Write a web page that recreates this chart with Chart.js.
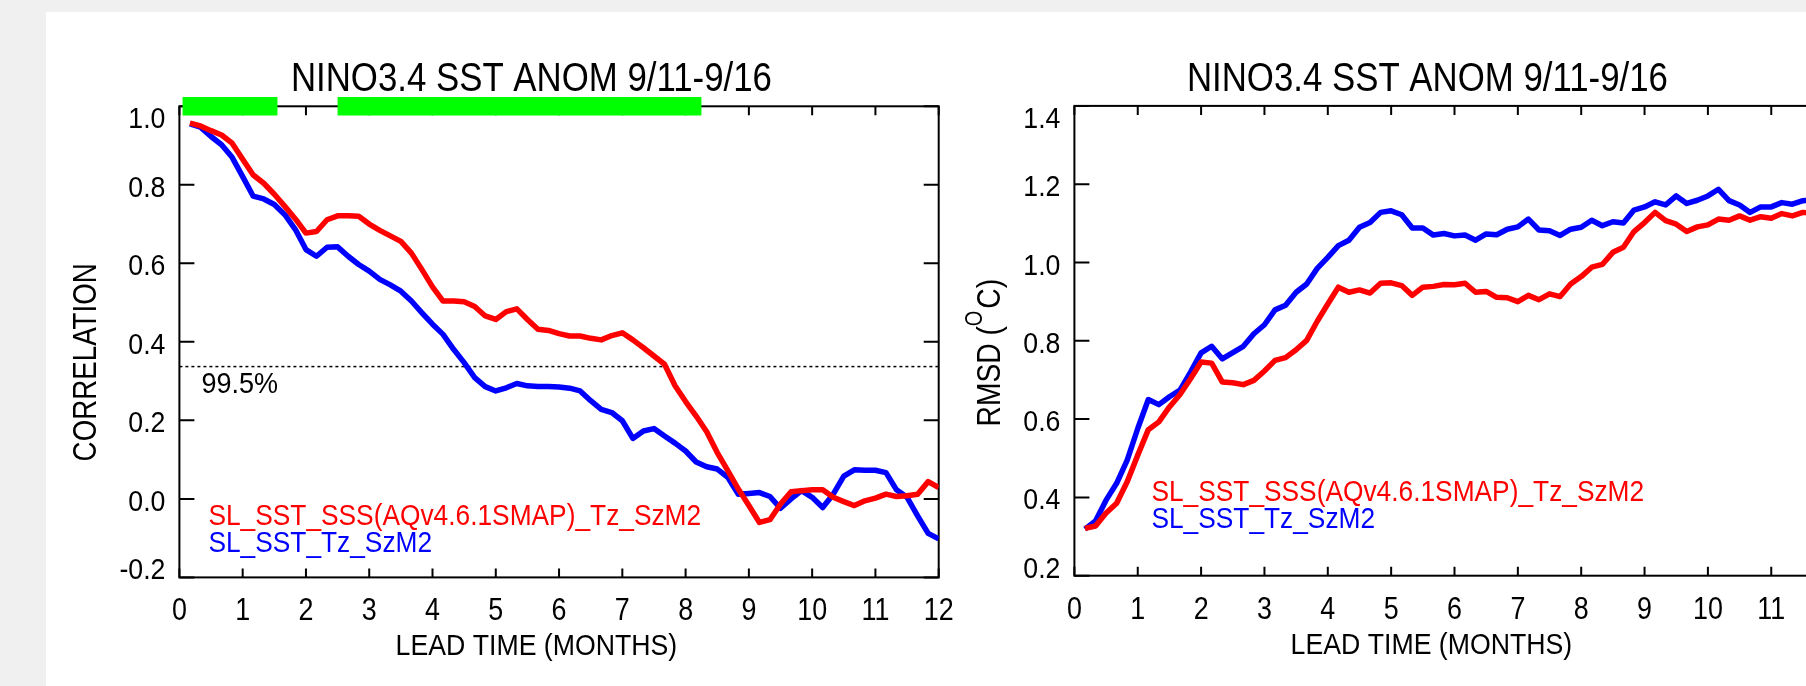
<!DOCTYPE html>
<html>
<head>
<meta charset="utf-8">
<script src="https://cdn.jsdelivr.net/npm/chart.js@4.4.1/dist/chart.umd.min.js"></script>
<style>
  html, body { margin: 0; padding: 0; background: #f0f0f0; overflow: hidden; }
  #page { position: relative; width: 1806px; height: 686px; overflow: hidden; }
  #panel { position: absolute; left: 46px; top: 12px; right: 0; bottom: 0; background: #fff; }
  canvas { position: absolute; top: 0; }
  #corr { left: 0; }
  #rmsd { left: 960px; }
</style>
</head>
<body>
<div id="page">
  <div id="panel"></div>
  <canvas id="corr" width="970" height="686"></canvas>
  <canvas id="rmsd" width="900" height="686"></canvas>
</div>
<script>
// lead times: pentad steps, in months
const leadTimes = Array.from({ length: 72 }, (_, i) => (i + 1) / 6);
const xTickLabels = ['0', '1', '2', '3', '4', '5', '6', '7', '8', '9', '10', '11', '12'];

const nameSSS = 'SL_SST_SSS(AQv4.6.1SMAP)_Tz_SzM2';
const nameSST = 'SL_SST_Tz_SzM2';

// anomaly correlation
const corrSSS = [0.957, 0.950, 0.938, 0.927, 0.906, 0.865, 0.825, 0.804, 0.776, 0.745, 0.713, 0.677,
  0.681, 0.711, 0.721, 0.721, 0.720, 0.700, 0.684, 0.670, 0.656, 0.626, 0.584, 0.540,
  0.504, 0.504, 0.502, 0.490, 0.466, 0.457, 0.477, 0.484, 0.457, 0.432, 0.429, 0.421,
  0.415, 0.415, 0.409, 0.405, 0.416, 0.423, 0.405, 0.385, 0.364, 0.343, 0.288, 0.248,
  0.211, 0.171, 0.118, 0.072, 0.025, -0.017, -0.060, -0.053, -0.013, 0.018, 0.021, 0.023,
  0.023, 0.004, -0.007, -0.017, -0.005, 0.002, 0.012, 0.006, 0.008, 0.012, 0.044, 0.029];
const corrSST = [0.955, 0.947, 0.923, 0.902, 0.870, 0.821, 0.771, 0.764, 0.750, 0.724, 0.686, 0.635,
  0.618, 0.641, 0.642, 0.618, 0.597, 0.580, 0.559, 0.545, 0.529, 0.504, 0.474, 0.445,
  0.419, 0.381, 0.347, 0.309, 0.286, 0.275, 0.283, 0.294, 0.288, 0.286, 0.286, 0.285,
  0.282, 0.275, 0.250, 0.228, 0.220, 0.199, 0.154, 0.173, 0.179, 0.160, 0.142, 0.122,
  0.094, 0.082, 0.076, 0.055, 0.012, 0.014, 0.016, 0.006, -0.024, 0.000, 0.021, 0.004,
  -0.022, 0.012, 0.058, 0.074, 0.073, 0.073, 0.067, 0.023, 0.004, -0.043, -0.088, -0.102];
const sig995 = 0.337;
// months where the two runs differ significantly (green bars)
const sigStart = [0.05, 2.5];
const sigEnd = [1.55, 8.25];

// rmsd (deg C)
const rmsdSSS = [0.321, 0.327, 0.360, 0.385, 0.440, 0.508, 0.573, 0.593, 0.631, 0.663, 0.703, 0.746,
  0.743, 0.695, 0.693, 0.688, 0.699, 0.723, 0.750, 0.757, 0.777, 0.801, 0.850, 0.894,
  0.937, 0.924, 0.930, 0.922, 0.947, 0.948, 0.941, 0.916, 0.937, 0.939, 0.944, 0.943,
  0.947, 0.924, 0.926, 0.911, 0.910, 0.900, 0.916, 0.905, 0.920, 0.913, 0.945, 0.964,
  0.988, 0.995, 1.026, 1.039, 1.079, 1.102, 1.128, 1.107, 1.098, 1.079, 1.091, 1.096,
  1.111, 1.108, 1.119, 1.108, 1.117, 1.113, 1.125, 1.119, 1.128, 1.125, 1.130, 1.130];
const rmsdSST = [0.319, 0.340, 0.393, 0.436, 0.495, 0.576, 0.650, 0.637, 0.657, 0.674, 0.720, 0.769,
  0.786, 0.754, 0.770, 0.786, 0.818, 0.841, 0.879, 0.891, 0.924, 0.945, 0.985, 1.013,
  1.043, 1.057, 1.090, 1.102, 1.128, 1.132, 1.122, 1.088, 1.088, 1.070, 1.074, 1.068,
  1.070, 1.057, 1.073, 1.071, 1.085, 1.091, 1.111, 1.083, 1.081, 1.069, 1.085, 1.090,
  1.108, 1.094, 1.104, 1.101, 1.134, 1.142, 1.155, 1.147, 1.170, 1.151, 1.159, 1.170,
  1.187, 1.158, 1.147, 1.128, 1.142, 1.142, 1.153, 1.149, 1.158, 1.160, 1.155, 1.160];

const FONT = '"Liberation Sans", Arial, sans-serif';
const LINE_W = 5.5;
const pts = (ys) => leadTimes.map((x, i) => ({ x, y: ys[i] }));

// the original uses a condensed face, so squeeze Liberation Sans sideways
function squeeze(ctx, text, x, y, size, sx, align) {
  ctx.save();
  ctx.font = size + 'px ' + FONT;
  const w = ctx.measureText(text).width * sx;
  const x0 = align === 'center' ? x - w / 2 : align === 'right' ? x - w : x;
  ctx.translate(x0, y);
  ctx.scale(sx, 1);
  ctx.textAlign = 'left';
  ctx.textBaseline = 'alphabetic';
  ctx.fillText(text, 0, 0);
  ctx.restore();
  return w;
}

// box round the plot with inward ticks on all four sides, tick labels
const frameTicks = {
  id: 'frameTicks',
  beforeDatasetsDraw(chart) {
    const { ctx, chartArea: a, scales: { x, y } } = chart;
    ctx.save();
    ctx.strokeStyle = '#000';
    ctx.lineWidth = 2;
    ctx.strokeRect(a.left, a.top, a.right - a.left, a.bottom - a.top);
    ctx.beginPath();
    x.ticks.forEach(t => {
      const px = x.getPixelForValue(t.value);
      ctx.moveTo(px, a.bottom); ctx.lineTo(px, a.bottom - 9);
      ctx.moveTo(px, a.top); ctx.lineTo(px, a.top + 9);
    });
    y.ticks.forEach(t => {
      const py = y.getPixelForValue(t.value);
      ctx.moveTo(a.left, py); ctx.lineTo(a.left + 15, py);
      ctx.moveTo(a.right, py); ctx.lineTo(a.right - 15, py);
    });
    ctx.stroke();
    ctx.fillStyle = '#000';
    x.ticks.forEach(t => {
      squeeze(ctx, xTickLabels[Math.round(t.value)], x.getPixelForValue(t.value), a.bottom + 43, 32, 0.84, 'center');
    });
    const n = y.ticks.length;
    y.ticks.forEach((t, i) => {
      let py = y.getPixelForValue(t.value) + 12;
      if (i === 0) py -= 10;
      if (i === n - 1) py += 10;
      const v = Math.abs(t.value) < 1e-9 ? 0 : t.value;
      squeeze(ctx, v.toFixed(1), a.left - 14, py, 29, 0.92, 'right');
    });
    ctx.restore();
  }
};

// titles, legend text
const textDecor = {
  id: 'textDecor',
  afterDraw(chart, args, o) {
    const { ctx, chartArea: a } = chart;
    ctx.save();
    ctx.fillStyle = '#000';
    squeeze(ctx, o.title, a.left + o.titleDx, a.top - 15, 40, 0.87, 'center');
    squeeze(ctx, o.xTitle, a.left + o.xTitleDx, a.bottom + 78, 29, 0.92, 'center');

    // y title, rotated, may carry a superscript piece
    ctx.save();
    ctx.translate(a.left - o.yTitleDx, a.top + o.yTitleDy);
    ctx.rotate(-Math.PI / 2);
    let total = 0;
    o.yTitle.forEach(s => { ctx.font = s.size + 'px ' + FONT; total += ctx.measureText(s.text).width * o.ySx + (s.gap || 0); });
    let cx = o.yCenter ? -total / 2 : 0;
    o.yTitle.forEach(s => {
      cx += squeeze(ctx, s.text, cx, -(s.rise || 0), s.size, o.ySx, 'left') + (s.gap || 0);
    });
    ctx.restore();

    // legend: plain coloured names
    [0, 1].forEach(i => {
      const ds = chart.data.datasets[i];
      ctx.fillStyle = ds.borderColor;
      squeeze(ctx, ds.label, a.left + o.legendDx, a.bottom - o.legendDy + i * 27, 30, 0.877, 'left');
    });

    if (o.sigLabel) {
      const y = chart.scales.y;
      ctx.fillStyle = '#000';
      squeeze(ctx, o.sigLabel, a.left + 22, y.getPixelForValue(sig995) + 26, 30, 0.9, 'left');
    }
    ctx.restore();
  }
};

function baseOptions(yMin, yMax, pad, deco) {
  return {
    responsive: false,
    animation: false,
    devicePixelRatio: 1,
    layout: { padding: pad },
    plugins: { legend: { display: false }, tooltip: { enabled: false }, textDecor: deco },
    elements: { point: { radius: 0 }, line: { tension: 0, borderJoinStyle: 'round' } },
    scales: {
      x: {
        type: 'linear', min: 0, max: 12,
        grid: { display: false, drawTicks: false },
        border: { display: false },
        ticks: { stepSize: 1, autoSkip: false, display: false },
        afterFit: (s) => { s.height = 60; s.paddingLeft = 0; s.paddingRight = 0; }
      },
      y: {
        min: yMin, max: yMax,
        grid: { display: false, drawTicks: false },
        border: { display: false },
        ticks: { stepSize: 0.2, display: false },
        afterFit: (s) => { s.width = 60; s.paddingTop = 0; s.paddingBottom = 0; }
      }
    }
  };
}

new Chart(document.getElementById('corr'), {
  type: 'line',
  data: {
    datasets: [
      { label: nameSSS, data: pts(corrSSS), borderColor: '#ff0000', borderWidth: LINE_W, order: 1 },
      { label: nameSST, data: pts(corrSST), borderColor: '#0000ff', borderWidth: LINE_W, order: 2 },
      { label: '99.5%', data: [{ x: 0, y: sig995 }, { x: 12, y: sig995 }],
        borderColor: '#000', borderWidth: 1.5, borderDash: [3, 3], order: 3 },
      { label: 'sig', order: 0, clip: false, spanGaps: false,
        data: sigStart.flatMap((s, i) => [{ x: s, y: 1.0 }, { x: sigEnd[i], y: 1.0 }, { x: sigEnd[i], y: null }]),
        borderColor: '#00ff00', borderWidth: 18.5, borderCapStyle: 'butt' }
    ]
  },
  options: baseOptions(-0.2, 1.0, { left: 119.4, right: 31.3, top: 106.3, bottom: 48.6 }, {
    title: 'NINO3.4 SST ANOM 9/11-9/16', titleDx: 352,
    xTitle: 'LEAD TIME (MONTHS)', xTitleDx: 357,
    yTitle: [{ text: 'CORRELATION', size: 33 }], ySx: 0.84, yTitleDx: 83, yTitleDy: 256, yCenter: true,
    legendDx: 29, legendDy: 52, sigLabel: '99.5%'
  }),
  plugins: [frameTicks, textDecor]
});

new Chart(document.getElementById('rmsd'), {
  type: 'line',
  data: {
    datasets: [
      { label: nameSSS, data: pts(rmsdSSS), borderColor: '#ff0000', borderWidth: LINE_W, order: 1 },
      { label: nameSST, data: pts(rmsdSST), borderColor: '#0000ff', borderWidth: LINE_W, order: 2 }
    ]
  },
  options: baseOptions(0.2, 1.4, { left: 54.4, right: 25.4, top: 105.9, bottom: 50.3 }, {
    title: 'NINO3.4 SST ANOM 9/11-9/16', titleDx: 353,
    xTitle: 'LEAD TIME (MONTHS)', xTitleDx: 357,
    yTitle: [{ text: 'RMSD (', size: 34 }, { text: 'O', size: 24, rise: 18, gap: 2 }, { text: 'C)', size: 34 }],
    ySx: 0.83, yTitleDx: 74, yTitleDy: 320.6, yCenter: false,
    legendDx: 77, legendDy: 75
  }),
  plugins: [frameTicks, textDecor]
});
</script>
</body>
</html>
